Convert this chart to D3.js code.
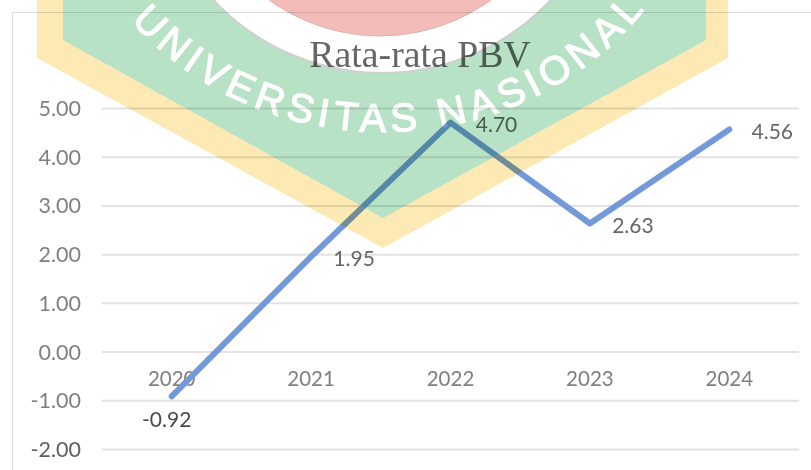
<!DOCTYPE html>
<html><head><meta charset="utf-8">
<style>html,body{margin:0;padding:0;background:#fff;overflow:hidden}svg{display:block}</style>
<script src="https://cdn.jsdelivr.net/npm/d3@7/dist/d3.min.js"></script>
</head><body><svg id="c" width="811" height="470"></svg>
<script>
const years = ["2020","2021","2022","2023","2024"];
const pbv = [-0.92,1.95,4.70,2.63,4.56];
const yTicks = [5,4,3,2,1,0,-1,-2];
const titleText = "Rata-rata PBV";
const watermarkText = "UNIVERSITAS NASIONAL";

const svg = d3.select("#c");
const font = "Lato, sans-serif";
const x = d3.scaleBand().domain(years).range([102,799]);
const y = d3.scaleLinear().domain([-2,5]).range([449,108]);
const cx = d => x(d)+x.bandwidth()/2;

svg.append("path").attr("d","M12.5 470V12.5H811").attr("fill","none").attr("stroke","#dedede").attr("stroke-width",1.2);

const yAxis = d3.axisLeft(y).tickValues(yTicks).tickSize(-697).tickPadding(21);
const gy = svg.append("g").attr("transform","translate(102,0)").call(yAxis);
gy.select(".domain").remove();
gy.selectAll("line").attr("stroke","#e2e2e2").attr("stroke-width",2);
gy.selectAll("text").attr("font-family",font).attr("font-size",21.5).attr("fill",d=>d===-2?"#5f5f5f":"#808080").attr("dy","0.35em")
  .text(d=>d3.format(".2f")(d).replace("−","-"));

const xAxis = d3.axisBottom(x).tickSize(0).tickPadding(20);
const gx = svg.append("g").attr("transform",`translate(0,${y(0)})`).call(xAxis);
gx.select(".domain").remove();
gx.selectAll("text").attr("font-family",font).attr("font-size",20.5).attr("fill","#808080");

const line = d3.line().x((d,i)=>cx(years[i])).y(d=>y(d));
svg.append("path").datum(pbv).attr("d",line).attr("fill","none").attr("stroke","#7399d8")
  .attr("stroke-width",6).attr("stroke-linecap","round").attr("stroke-linejoin","round");

svg.append("g").selectAll("text").data(pbv).join("text")
  .attr("x",(d,i)=>cx(years[i])+(i===0?-5:i===2?46:43))
  .attr("y",(d,i)=>y(d)+(i===0?23:2))
  .attr("dy","0.35em").attr("text-anchor","middle")
  .attr("font-family",font).attr("font-size",21).attr("fill",(d,i)=>i===0?"#4a4a4a":"#666")
  .text(d=>d3.format(".2f")(d).replace("−","-"));

svg.append("text").attr("transform","translate(420,67) scale(1.05,1.06)").attr("text-anchor","middle")
  .attr("font-family","'Liberation Serif',serif").attr("font-size",36).attr("fill","#666").text(titleText);

const wm = svg.append("g").style("mix-blend-mode","multiply");
wm.append("path").attr("d","M37 -5V58L383 248L728 58V-5Z").attr("fill","#fde9b4");
wm.append("path").attr("d","M63 -5V40L383 218L706 40V-5Z").attr("fill","#b7e2c6");
wm.append("circle").attr("cx",382).attr("cy",-158).attr("r",231).attr("fill","#fff").attr("stroke","#cfcfcf").attr("stroke-width",2);
wm.append("circle").attr("cx",380).attr("cy",-153).attr("r",189).attr("fill","#f4bcb8").attr("stroke","#d9b4b0").attr("stroke-width",1);
svg.append("defs").append("path").attr("id","arc").attr("d","M 58 -170 A 325 302 0 0 0 708 -170");
wm.append("text").attr("font-family","'Liberation Sans',sans-serif").attr("font-size",40).attr("fill","#fff").attr("stroke","#fff").attr("stroke-width",1.2).attr("letter-spacing",5.5)
  .append("textPath").attr("href","#arc").attr("startOffset","51%").attr("text-anchor","middle").text(watermarkText);
</script></body></html>
